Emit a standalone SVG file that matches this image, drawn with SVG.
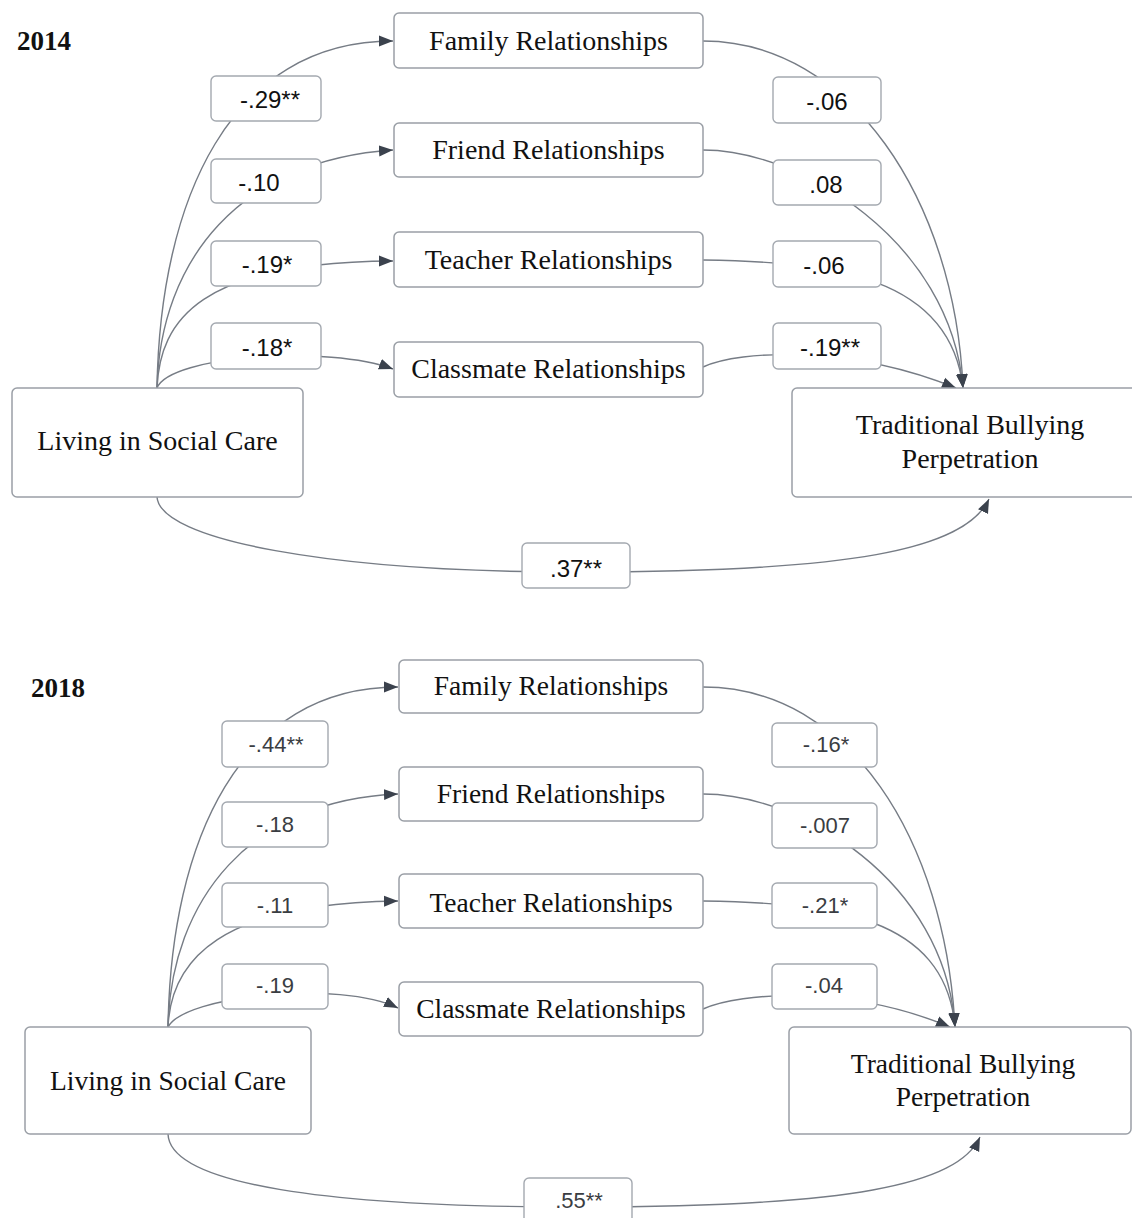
<svg xmlns="http://www.w3.org/2000/svg" width="1132" height="1218" viewBox="0 0 1132 1218">
<defs>
<style>
.node{fill:#fff;stroke:#9a9fa6;stroke-width:1.5}
.lbl{fill:#fff;stroke:#a4a9b0;stroke-width:1.4}
.ntxt{font-family:"Liberation Serif","Times New Roman",serif;font-size:28px;fill:#111;text-anchor:middle}
.ntxt2{font-family:"Liberation Serif","Times New Roman",serif;font-size:27.5px;fill:#111;text-anchor:middle}
.year{font-family:"Liberation Serif","Times New Roman",serif;font-size:27px;font-weight:bold;fill:#111}
.l14{font-family:"Liberation Sans",Arial,sans-serif;font-size:24px;fill:#111;text-anchor:middle}
.l18{font-family:"Liberation Sans",Arial,sans-serif;font-size:22px;fill:#3a3d42;text-anchor:middle}
.edge{fill:none;stroke:#767c85;stroke-width:1.4}
</style>
<marker id="arr" markerUnits="userSpaceOnUse" markerWidth="15" markerHeight="13" refX="14" refY="6.5" orient="auto">
<path d="M0,1 L14,6.5 L0,12 Z" fill="#3b424d"/>
</marker>
</defs>
<rect width="1132" height="1218" fill="#fff"/>
<text class="year" x="17" y="50">2014</text>
<text class="year" x="31" y="697">2018</text>

<g id="connectors">
<!-- 2014 -->
<path class="edge" d="M157,388 C160,200 230,41 393,41" marker-end="url(#arr)"/>
<path class="edge" d="M157,388 C160,260 240,160 393,150" marker-end="url(#arr)"/>
<path class="edge" d="M157,388 C160,320 200,262 393,261" marker-end="url(#arr)"/>
<path class="edge" d="M157,388 C170,355 330,345 393,369" marker-end="url(#arr)"/>
<path class="edge" d="M703,41 C850,41 955,200 963,388" marker-end="url(#arr)"/>
<path class="edge" d="M703,150 C800,150 950,240 963,388" marker-end="url(#arr)"/>
<path class="edge" d="M703,260 C830,262 950,275 963,388" marker-end="url(#arr)"/>
<path class="edge" d="M703,367 C740,350 850,345 956,388" marker-end="url(#arr)"/>
<path class="edge" d="M157,497 C160,540 330,572 576,572 C850,572 965,550 989,499" marker-end="url(#arr)"/>
<!-- 2018 -->
<path class="edge" d="M168,1027 C171,840 240,687 398,687" marker-end="url(#arr)"/>
<path class="edge" d="M168,1027 C171,900 250,800 398,794" marker-end="url(#arr)"/>
<path class="edge" d="M168,1027 C171,960 220,903 398,901" marker-end="url(#arr)"/>
<path class="edge" d="M168,1027 C185,995 340,980 398,1008" marker-end="url(#arr)"/>
<path class="edge" d="M703,687 C850,687 945,840 955,1027" marker-end="url(#arr)"/>
<path class="edge" d="M703,794 C800,794 945,880 955,1027" marker-end="url(#arr)"/>
<path class="edge" d="M703,901 C830,903 945,915 955,1027" marker-end="url(#arr)"/>
<path class="edge" d="M703,1009 C740,992 850,985 950,1027" marker-end="url(#arr)"/>
<path class="edge" d="M168,1134 C170,1185 330,1207 578,1207 C850,1207 958,1185 980,1137" marker-end="url(#arr)"/>
</g>

<!-- 2014 nodes -->
<g id="family-2014"><rect class="node" x="394" y="13" width="309" height="55" rx="5"/><text class="ntxt" x="548.5" y="50">Family Relationships</text></g>
<g id="friend-2014"><rect class="node" x="394" y="123" width="309" height="54" rx="5"/><text class="ntxt" x="548.5" y="159">Friend Relationships</text></g>
<g id="teacher-2014"><rect class="node" x="394" y="232" width="309" height="55" rx="5"/><text class="ntxt" x="548.5" y="269">Teacher Relationships</text></g>
<g id="classmate-2014"><rect class="node" x="394" y="342" width="309" height="55" rx="5"/><text class="ntxt" x="548.5" y="378">Classmate Relationships</text></g>
<g id="living-2014"><rect class="node" x="12" y="388" width="291" height="109" rx="5"/><text class="ntxt" x="157.5" y="450">Living in Social Care</text></g>
<g id="bullying-2014"><rect class="node" x="792" y="388" width="345" height="109" rx="5"/><text class="ntxt" x="970" y="434">Traditional Bullying</text><text class="ntxt" x="970" y="468">Perpetration</text></g>

<!-- 2014 labels -->
<g id="lbl-2014-a1"><rect class="lbl" x="211" y="76" width="110" height="45" rx="5"/><text class="l14" x="270" y="108">-.29**</text></g>
<g id="lbl-2014-a2"><rect class="lbl" x="211" y="159" width="110" height="44" rx="5"/><text class="l14" x="259" y="191">-.10</text></g>
<g id="lbl-2014-a3"><rect class="lbl" x="211" y="241" width="110" height="45" rx="5"/><text class="l14" x="267" y="273">-.19*</text></g>
<g id="lbl-2014-a4"><rect class="lbl" x="211" y="323" width="110" height="46" rx="5"/><text class="l14" x="267" y="356">-.18*</text></g>
<g id="lbl-2014-b1"><rect class="lbl" x="773" y="77" width="108" height="46" rx="5"/><text class="l14" x="827" y="110">-.06</text></g>
<g id="lbl-2014-b2"><rect class="lbl" x="773" y="160" width="108" height="45" rx="5"/><text class="l14" x="826" y="193">.08</text></g>
<g id="lbl-2014-b3"><rect class="lbl" x="773" y="241" width="108" height="46" rx="5"/><text class="l14" x="824" y="274">-.06</text></g>
<g id="lbl-2014-b4"><rect class="lbl" x="773" y="323" width="108" height="46" rx="5"/><text class="l14" x="830" y="356">-.19**</text></g>
<g id="lbl-2014-c"><rect class="lbl" x="522" y="543" width="108" height="45" rx="5"/><text class="l14" x="576" y="577">.37**</text></g>

<!-- 2018 nodes -->
<g id="family-2018"><rect class="node" x="399" y="660" width="304" height="53" rx="5"/><text class="ntxt2" x="551" y="695">Family Relationships</text></g>
<g id="friend-2018"><rect class="node" x="399" y="767" width="304" height="54" rx="5"/><text class="ntxt2" x="551" y="803">Friend Relationships</text></g>
<g id="teacher-2018"><rect class="node" x="399" y="874" width="304" height="54" rx="5"/><text class="ntxt2" x="551" y="912">Teacher Relationships</text></g>
<g id="classmate-2018"><rect class="node" x="399" y="982" width="304" height="54" rx="5"/><text class="ntxt2" x="551" y="1018">Classmate Relationships</text></g>
<g id="living-2018"><rect class="node" x="25" y="1027" width="286" height="107" rx="5"/><text class="ntxt2" x="168" y="1090">Living in Social Care</text></g>
<g id="bullying-2018"><rect class="node" x="789" y="1027" width="342" height="107" rx="5"/><text class="ntxt2" x="963" y="1073">Traditional Bullying</text><text class="ntxt2" x="963" y="1106">Perpetration</text></g>

<!-- 2018 labels -->
<g id="lbl-2018-a1"><rect class="lbl" x="222" y="721" width="106" height="46" rx="5"/><text class="l18" x="276" y="752">-.44**</text></g>
<g id="lbl-2018-a2"><rect class="lbl" x="222" y="802" width="106" height="45" rx="5"/><text class="l18" x="275" y="832">-.18</text></g>
<g id="lbl-2018-a3"><rect class="lbl" x="222" y="883" width="106" height="44" rx="5"/><text class="l18" x="275" y="913">-.11</text></g>
<g id="lbl-2018-a4"><rect class="lbl" x="222" y="964" width="106" height="45" rx="5"/><text class="l18" x="275" y="993">-.19</text></g>
<g id="lbl-2018-b1"><rect class="lbl" x="772" y="723" width="105" height="44" rx="5"/><text class="l18" x="826" y="752">-.16*</text></g>
<g id="lbl-2018-b2"><rect class="lbl" x="772" y="803" width="105" height="45" rx="5"/><text class="l18" x="825" y="833">-.007</text></g>
<g id="lbl-2018-b3"><rect class="lbl" x="772" y="883" width="105" height="45" rx="5"/><text class="l18" x="825" y="913">-.21*</text></g>
<g id="lbl-2018-b4"><rect class="lbl" x="772" y="964" width="105" height="45" rx="5"/><text class="l18" x="824" y="993">-.04</text></g>
<g id="lbl-2018-c"><rect class="lbl" x="524" y="1178" width="108" height="50" rx="5"/><text class="l18" x="579" y="1208">.55**</text></g>
</svg>
